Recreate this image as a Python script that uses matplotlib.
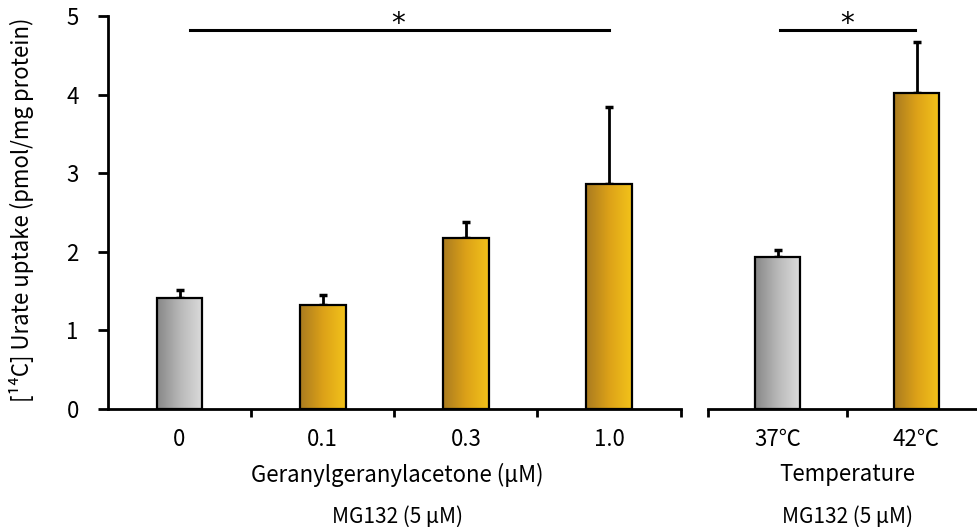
import matplotlib
matplotlib.use("Agg")
import matplotlib.pyplot as plt
import numpy as np
from matplotlib.colors import LinearSegmentedColormap

plt.rcParams['font.family'] = ['Noto Sans CJK JP', 'DejaVu Sans']

# Data
gga_labels = ["0", "0.1", "0.3", "1.0"]
gga_values = [1.41, 1.32, 2.18, 2.86]
gga_errors = [0.11, 0.13, 0.20, 0.98]
gga_kind = ["control", "treat", "treat", "treat"]

temp_labels = ["37\u2103", "42\u2103"]
temp_values = [1.94, 4.02]
temp_errors = [0.08, 0.65]
temp_kind = ["control", "treat"]

ylabel = "[\u00b9\u2074C] Urate uptake (pmol/mg protein)"
yticks = [0, 1, 2, 3, 4, 5]

cmaps = {
    "control": LinearSegmentedColormap.from_list("g", ["#878787", "#b8b8b8", "#dcdcdc"]),
    "treat": LinearSegmentedColormap.from_list("y", ["#a97b20", "#dca118", "#f3c31a"]),
}

W, H = 977, 527
fig = plt.figure(figsize=(W / 100, H / 100), dpi=100)
y0, y5 = 409, 16
bottom = (H - y0) / H
height = (y0 - y5) / H
axL = fig.add_axes([108 / W, bottom, (680.5 - 108) / W, height])
axR = fig.add_axes([708 / W, bottom, (977 - 708) / W, height])

grad = np.linspace(0, 1, 256).reshape(1, -1)
FS = 16


def draw(ax, values, errors, kinds, labels, xlim):
    x = np.arange(len(values))
    bars = ax.bar(x, values, width=0.32, edgecolor="black", linewidth=1.6,
                  facecolor="none", zorder=3)
    for b, k in zip(bars, kinds):
        bx, by = b.get_x(), b.get_y()
        im = ax.imshow(grad, cmap=cmaps[k], aspect="auto",
                       extent=[bx, bx + b.get_width(), by, by + b.get_height()],
                       zorder=2, interpolation="bilinear")
        im.set_clip_path(b)
    ax.errorbar(x, values, yerr=[np.zeros(len(errors)), errors], fmt="none",
                ecolor="black", elinewidth=2, capsize=3, capthick=2.5, zorder=1)
    ax.set_xlim(*xlim)
    ax.set_ylim(0, 5)
    ax.set_xticks(x)
    ax.set_xticklabels(labels, fontsize=FS)
    ax.tick_params(axis="x", which="major", length=0, pad=14)
    ax.tick_params(axis="x", which="minor", length=6, width=2, direction="out")
    for s in ["top", "right"]:
        ax.spines[s].set_visible(False)
    ax.spines["bottom"].set_linewidth(2)
    ax.spines["left"].set_linewidth(2)
    return x


xL = draw(axL, gga_values, gga_errors, gga_kind, gga_labels, (-0.5, 3.5))
axL.set_xticks([0.5, 1.5, 2.5, 3.5], minor=True)
axL.set_yticks(yticks)
axL.set_yticklabels([str(t) for t in yticks], fontsize=FS)
axL.tick_params(axis="y", length=7, width=2, pad=14)
fig.text(22 / W, 1 - 210 / H, ylabel, rotation=90, ha="center", va="center", fontsize=FS)

xR = draw(axR, temp_values, temp_errors, temp_kind, temp_labels, (-0.5, 1.435))
axR.set_xticks([-0.5, 0.5], minor=True)
axR.spines["left"].set_visible(False)
axR.set_yticks([])

# Significance bars
axL.plot([0.07, 3.0], [4.82, 4.82], color="black", lw=2.2, clip_on=False)
axL.text(1.53, 4.80, "*", ha="center", va="baseline", fontsize=20,
         family="DejaVu Sans", clip_on=False)
axR.plot([0.02, 0.99], [4.82, 4.82], color="black", lw=2.2, clip_on=False)
axR.text(0.5, 4.80, "*", ha="center", va="baseline", fontsize=20,
         family="DejaVu Sans", clip_on=False)

# Group labels
fig.text(397 / W, 1 - 475 / H, "Geranylgeranylacetone (\u03bcM)", ha="center", va="center", fontsize=FS)
fig.text(397 / W, 1 - 517 / H, "MG132 (5 \u03bcM)", ha="center", va="center", fontsize=15)
fig.text(847 / W, 1 - 475 / H, "Temperature", ha="center", va="center", fontsize=FS)
fig.text(847 / W, 1 - 517 / H, "MG132 (5 \u03bcM)", ha="center", va="center", fontsize=15)

fig.savefig("out.png", dpi=100)
